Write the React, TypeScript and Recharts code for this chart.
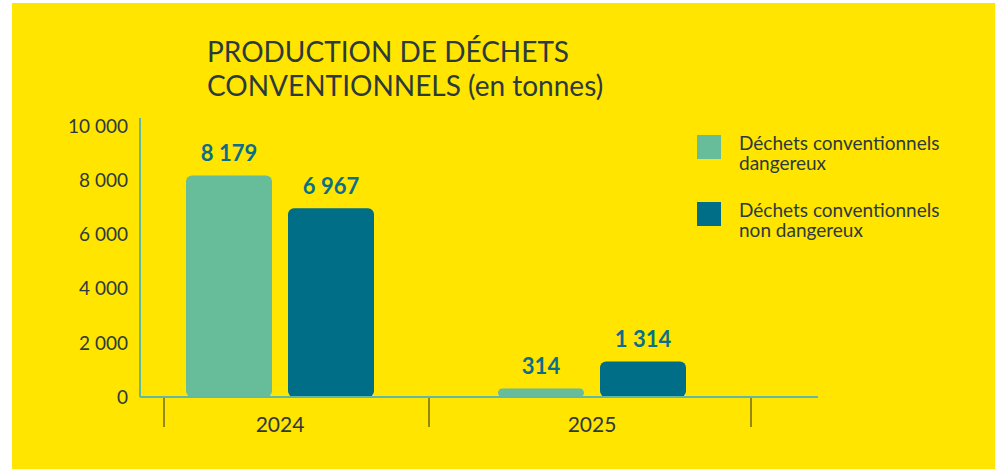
import React from "react";
import { BarChart, Bar, XAxis, YAxis, Legend, LabelList } from "recharts";

// values read from the infographic (tonnes)
const years = ["2024", "2025"];
const dangereux = [8179, 314];
const nonDangereux = [6967, 1314];
const yTicks = [0, 2000, 4000, 6000, 8000, 10000];
const seriesNames = ["Déchets conventionnels dangereux", "Déchets conventionnels non dangereux"];

const data = years.map((year, i) => ({
  year,
  dangereux: dangereux[i],
  nonDangereux: nonDangereux[i],
}));

const FONT = "Lato, 'Open Sans', sans-serif";
const TEXT = "#2c3a3f";
const LIGHT = "#67bc9a";
const DARK = "#006e87";
const AXIS = "#5fb9a6";

// "8179" -> "8 179"
const fmt = (v: any) => String(v).replace(/\B(?=(\d{3})+(?!\d))/g, " ");

// divider lines under the axis sit a bit off the band edges in the original
const dividerOffsets = [[-116], [-163, 159]];

const YearTick = (props: any) => {
  const { x, y, payload, index } = props;
  return (
    <g>
      {(dividerOffsets[index] || []).map((dx) => (
        <line key={dx} x1={x + dx} x2={x + dx} y1={y + 1} y2={y + 30} stroke="#2b2b2b" strokeWidth={1} />
      ))}
      <text x={x} y={y + 35} textAnchor="middle" fill={TEXT} fontSize={21} fontFamily={FONT}>
        {payload.value}
      </text>
    </g>
  );
};

const LegendContent = ({ payload }: any) => (
  <div style={{ fontFamily: FONT, fontSize: 19, lineHeight: "20px", color: TEXT }}>
    {(payload || []).map((p: any) => (
      <div key={p.value} style={{ display: "flex", marginBottom: 27 }}>
        <div style={{ width: 24, height: 24, background: p.color, marginTop: 2, flexShrink: 0 }} />
        <div style={{ marginLeft: 18, width: 225 }}>{p.value}</div>
      </div>
    ))}
  </div>
);

export default function App() {
  return (
    <div style={{ position: "fixed", top: 0, left: 0, width: 995, height: 469, background: "#ffffff" }}>
      <div style={{ position: "absolute", left: 12, top: 3, width: 983, height: 466, background: "#ffe500" }} />
      <div
        style={{
          position: "absolute",
          left: 207,
          top: 34,
          fontFamily: FONT,
          fontSize: 28,
          lineHeight: "34px",
          color: TEXT,
          whiteSpace: "nowrap",
        }}
      >
        PRODUCTION DE DÉCHETS
        <br />
        CONVENTIONNELS (en tonnes)
      </div>
      <div style={{ position: "absolute", left: 0, top: 0 }}>
        <BarChart
          width={995}
          height={469}
          data={data}
          margin={{ top: 118, right: 177, bottom: 32, left: 0 }}
          barSize={86}
          barGap={16}
        >
          <XAxis
            dataKey="year"
            padding={{ left: -16, right: 70 }}
            axisLine={{ stroke: AXIS, strokeWidth: 2 }}
            tickLine={false}
            tickSize={0}
            tickMargin={0}
            height={40}
            tick={<YearTick />}
            interval={0}
          />
          <YAxis
            width={140}
            domain={[0, 10300]}
            ticks={yTicks}
            tickFormatter={fmt}
            axisLine={{ stroke: AXIS, strokeWidth: 2 }}
            tickLine={false}
            tickMargin={6}
            tick={{ fontSize: 19, fill: TEXT, fontFamily: FONT }}
          />
          <Legend
            layout="vertical"
            align="center"
            verticalAlign="middle"
            content={<LegendContent />}
            wrapperStyle={{ position: "absolute", left: 697, top: 133, width: 280 }}
          />
          <Bar dataKey="dangereux" name={seriesNames[0]} fill={LIGHT} radius={6} isAnimationActive={false}>
            <LabelList
              dataKey="dangereux"
              position="top"
              offset={14}
              formatter={fmt}
              fill="#0b6e8a"
              fontSize={22}
              fontWeight={700}
              fontFamily={FONT}
            />
          </Bar>
          <Bar dataKey="nonDangereux" name={seriesNames[1]} fill={DARK} radius={6} isAnimationActive={false}>
            <LabelList
              dataKey="nonDangereux"
              position="top"
              offset={14}
              formatter={fmt}
              fill="#0b6e8a"
              fontSize={22}
              fontWeight={700}
              fontFamily={FONT}
            />
          </Bar>
        </BarChart>
      </div>
    </div>
  );
}
